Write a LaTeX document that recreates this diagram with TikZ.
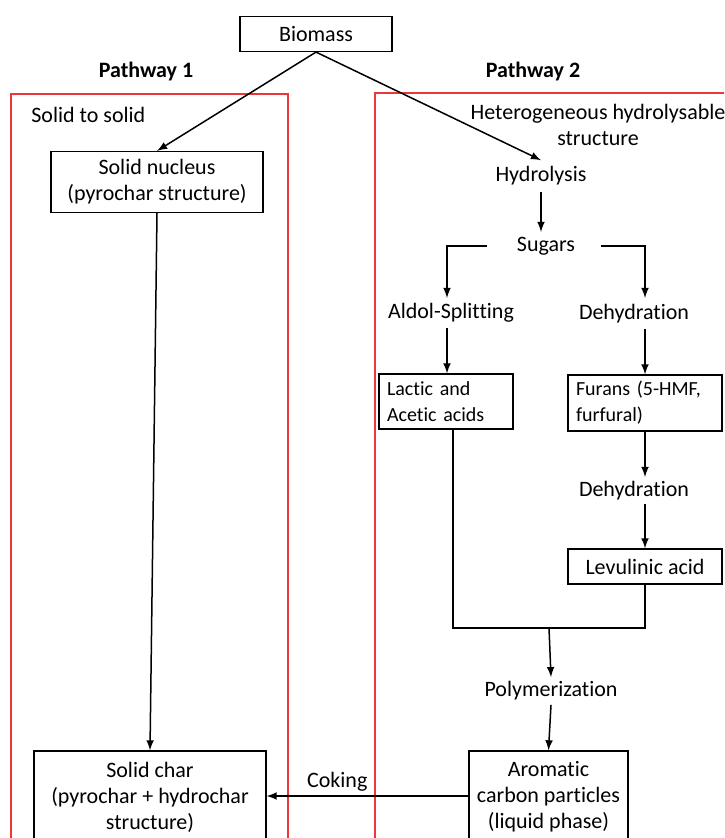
\documentclass[tikz,border=0pt]{standalone}
\usepackage{fontspec}
\setmainfont[Ligatures=NoCommon]{Carlito}
\usetikzlibrary{arrows}
\definecolor{pathred}{RGB}{235,55,55}

\begin{document}
\begin{tikzpicture}[x=0.5pt, y=-0.5pt, font=\fontsize{11}{13}\selectfont]
    \tikzstyle{every node} = [inner sep=2pt]
    \tikzstyle{stage} = [draw, line width=0.6pt, align=center]
    \tikzstyle{small} = [draw, line width=0.6pt, align=left, font=\fontsize{10}{13}\selectfont, inner xsep=4pt, text width=59pt]
    \tikzstyle{flow} = [line width=0.75pt, -latex]
    \useasboundingbox (0, 0) rectangle (724, 838);
    \clip (0, 0) rectangle (724, 838);
    % the two pathways
    \draw [pathred, line width=0.55pt] (11, 94) rectangle (288, 900);
    \draw [pathred, line width=0.55pt] (375, 93) rectangle (760, 900);
    \node (p1) at (146, 72) {\bfseries Pathway 1};
    \node (p2) at (533, 72) {\bfseries Pathway 2};
    \node [anchor=west] (s2s) at (27, 115) {Solid to solid};
    \node [align=center] (het) at (598, 125) {Heterogeneous hydrolysable\\structure};
    % boxes and steps
    \node [stage, minimum width=76pt, minimum height=17.5pt] (bio) at (316, 34) {Biomass};
    \node [stage, minimum width=106pt, minimum height=30.5pt] (nuc) at (157, 182) {Solid nucleus\\(pyrochar structure)};
    \node [inner sep=3pt] (hyd) at (541, 176) {Hydrolysis};
    \node [inner sep=3pt] (sug) at (546, 246) {Sugars};
    \node (ald) at (451, 313) {Aldol-Splitting};
    \node (deh1) at (634, 314) {Dehydration};
    \node [small, minimum height=27.5pt] (lac) at (446, 401.5) {Lactic and\\Acetic acids};
    \node [small, text width=69pt, minimum height=28pt] (fur) at (645, 403) {Furans (5-HMF,\\furfural)};
    \node (deh2) at (634, 491) {Dehydration};
    \node [stage, minimum width=77pt, minimum height=17.5pt] (lev) at (645, 566.5) {Levulinic acid};
    \node (poly) at (551, 691) {Polymerization};
    \node [stage, minimum width=116pt, minimum height=46pt] (char) at (150, 797) {Solid char\\(pyrochar + hydrochar\\structure)};
    \node [stage, minimum width=79.5pt, minimum height=46pt] (aro) at (548.5, 797) {Aromatic\\carbon particles\\(liquid phase)};
    \coordinate (join) at (549, 628);
    % connectors
    \draw [flow] (bio.south) -- (nuc.north);
    \draw [flow] (bio.south) -- (hyd.north);
    \draw [flow] (nuc.south) -- (char.north);
    \draw [flow] (hyd.south) -- (541, 232);
    \draw [flow] ([xshift=-12pt]sug.west) -| (447, 298);
    \draw [flow] ([xshift=10pt]sug.east) -| (645, 298);
    \draw [flow] (447, 328) -- (lac.north -| 447, 0);
    \draw [flow] (645, 329) -- (fur.north);
    \draw [flow] (fur.south) -- (645, 477);
    \draw [flow] (645, 504) -- (lev.north);
    \draw [line width=0.75pt] (lac.south -| 453, 0) |- (join);
    \draw [line width=0.75pt] (lev.south) |- (join);
    \draw [flow] (join) -- (poly.north);
    \draw [flow] (poly.south) -- (aro.north);
    \draw [flow] (aro.west |- 0, 796) -- node [above, pos=0.65] {Coking} (char.east |- 0, 796);
\end{tikzpicture}
\end{document}
